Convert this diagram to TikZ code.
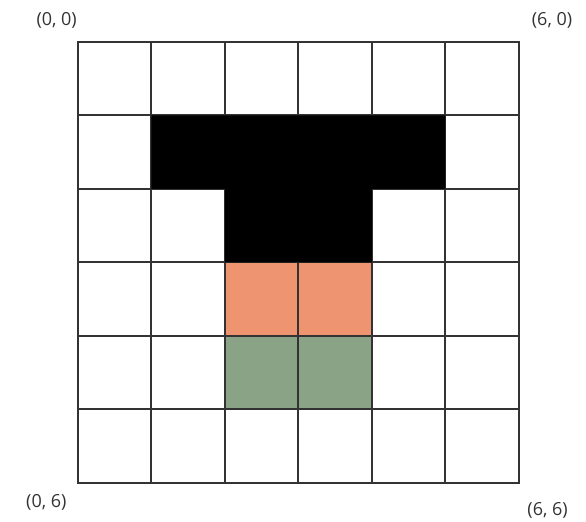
\documentclass[tikz,border=0pt]{standalone}
\usepackage{fontspec}
\setmainfont{Open Sans}
\usetikzlibrary{positioning}
\definecolor{ink}{HTML}{333333}
\definecolor{shade}{HTML}{000000}
\definecolor{salmon}{HTML}{EE9470}
\definecolor{sage}{HTML}{8AA285}
\tikzset{
  every node/.style={font=\fontsize{18}{20}\selectfont, text=ink},
  cellblack/.style={fill=shade},
  cellsalmon/.style={fill=salmon},
  cellsage/.style={fill=sage},
  gridline/.style={draw=ink, line width=2pt, line cap=rect},
  corner/.style={inner sep=0pt},
}

\begin{document}
\begin{tikzpicture}[x=73.5pt, y=-73.5pt]
\useasboundingbox (-1.061,-0.571) rectangle (6.912,6.531);
% coloured cells
\fill[cellsalmon] (2,3) rectangle (4,4);
\fill[cellsage] (2,4) rectangle (4,5);
% grid
\foreach \i in {0,...,6} {
  \draw[gridline] (\i,0) -- (\i,6);
  \draw[gridline] (0,\i) -- (6,\i);
}
% black T on top of the lines
\fill[cellblack] (1,1) -- (5,1) -- (5,2) -- (4,2) -- (4,3) -- (2,3) -- (2,2) -- (1,2) -- cycle;
% corner labels
\node[corner] (tl) at (-0.29,-0.29) {(0, 0)};
\node[corner] (tr) at (6.45,-0.30) {(6, 0)};
\node[corner] (bl) at (-0.43,6.27) {(0, 6)};
\node[corner] (br) at (6.39,6.37) {(6, 6)};
\end{tikzpicture}
\end{document}
